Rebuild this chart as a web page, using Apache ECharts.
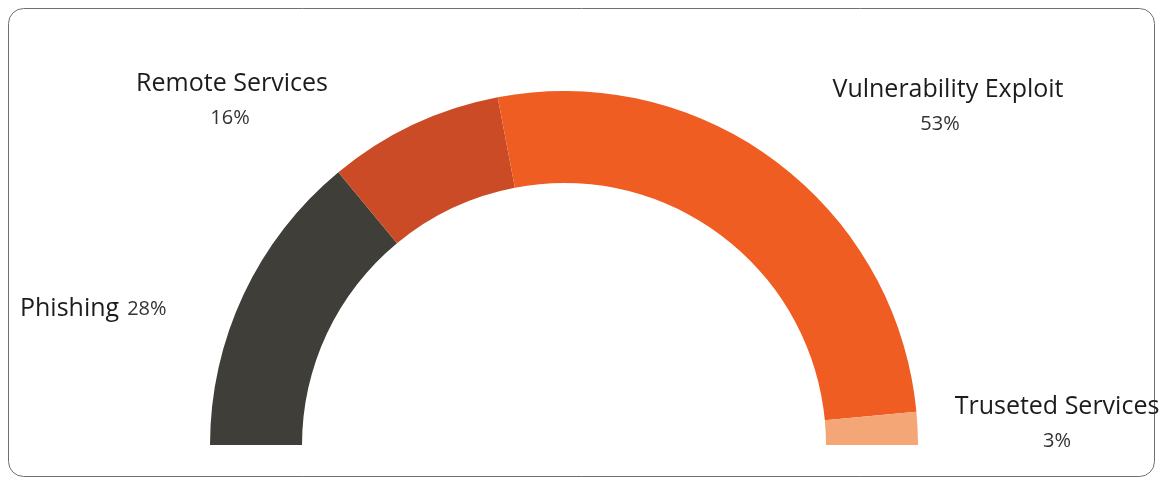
<!DOCTYPE html>
<html><head><meta charset="utf-8">
<script src="https://cdn.jsdelivr.net/npm/echarts@6/dist/echarts.min.js"></script>
<style>html,body{margin:0;padding:0;background:#fff}#c{width:1159px;height:482px}</style>
</head><body><div id="c"></div>
<script>
const categories = ['Phishing', 'Remote Services', 'Vulnerability Exploit', 'Truseted Services'];
const values = [28, 16, 53, 3];
const colors = ['#403e39', '#cb4b26', '#ef5d23', '#f5a676'];
// label anchor positions (layout only)
const labelPos = [
  {x: 20, y: 309, align: 'left', pad: 0},
  {x: 232, y: 101, align: 'center', pad: 4},
  {x: 948, y: 107, align: 'center', pad: 16},
  {x: 1057, y: 424, align: 'center', pad: 0}
];
const chart = echarts.init(document.getElementById('c'));
chart.setOption({
  animation: false,
  graphic: [{type: 'rect', shape: {x: 8.5, y: 8.5, width: 1146, height: 468, r: 15}, style: {fill: 'none', stroke: '#6f6f6f', lineWidth: 1}}],
  series: [{
    type: 'pie',
    center: [564, 445],
    radius: [262, 354],
    startAngle: 180,
    endAngle: 0,
    clockwise: true,
    avoidLabelOverlap: false,
    labelLine: {show: false},
    emphasis: {disabled: true},
    label: {
      show: true,
      position: 'outside',
      fontFamily: 'Open Sans',
      lineHeight: 35,
      formatter: p => p.dataIndex === 0 ? '{n|' + p.name + '}{s|}{p|' + p.value + '%}' : '{n|' + p.name + '}\n{p' + p.dataIndex + '|' + p.value + '%}',
      rich: {
        n: {fontSize: 25, color: '#1c1c1c', fontFamily: 'Open Sans', lineHeight: 35},
        s: {width: 8},
        p: {fontSize: 20, color: '#333', fontFamily: 'Open Sans', lineHeight: 35},
        p1: {fontSize: 20, color: '#333', fontFamily: 'Open Sans', lineHeight: 35, padding: [0, labelPos[1].pad, 0, 0]},
        p2: {fontSize: 20, color: '#333', fontFamily: 'Open Sans', lineHeight: 35, padding: [0, labelPos[2].pad, 0, 0]},
        p3: {fontSize: 20, color: '#333', fontFamily: 'Open Sans', lineHeight: 35}
      }
    },
    labelLayout: params => {
      const lp = labelPos[params.dataIndex];
      return {x: lp.x, y: lp.y, align: lp.align, verticalAlign: 'middle'};
    },
    data: categories.map((c, i) => ({name: c, value: values[i], itemStyle: {color: colors[i]}}))
  }]
});
</script></body></html>
